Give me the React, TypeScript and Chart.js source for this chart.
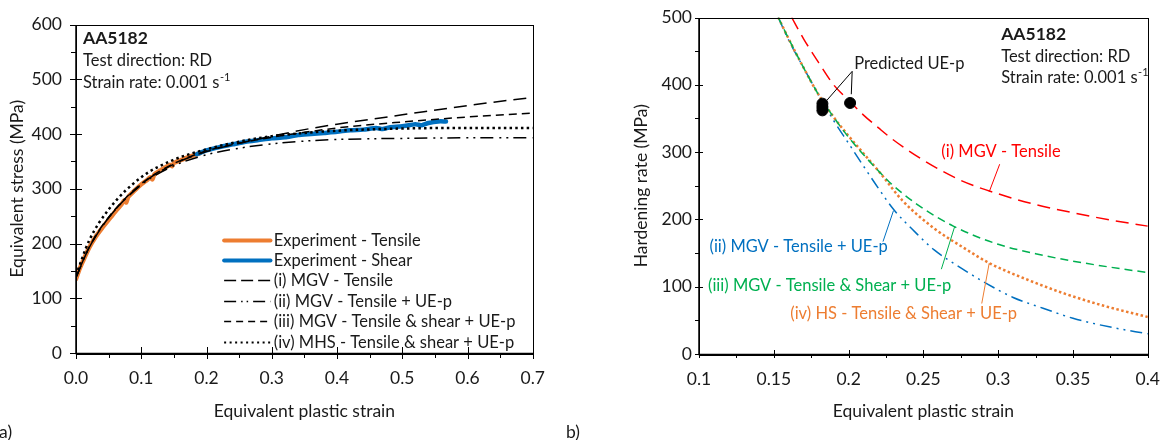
import React, { useEffect, useRef } from "react";
import { Chart, registerables } from "chart.js";
Chart.register(...registerables);

const FONT = "Lato, 'Open Sans', 'DejaVu Sans', sans-serif";
const TXT = "#1a1a1a";
const ORANGE = "#ED7D31";
const BLUE = "#0070C0";
const GREEN = "#00B050";
const RED = "#FF0000";
const BODY = 16.5;
const TITLE = 17.5;
const TICK = 17.5;

// ---------------- Panel a) : stress-strain ----------------
const xMajorA = [0, 0.1, 0.2, 0.3, 0.4, 0.5, 0.6, 0.7];
const xMinorA = [0.05, 0.15, 0.25, 0.35, 0.45, 0.55, 0.65];
const yMajorA = [0, 100, 200, 300, 400, 500, 600];
const yMinorA = [50, 150, 250, 350, 450, 550];

const expTensileStrain = [0, 0.005, 0.01, 0.02, 0.03, 0.04, 0.05, 0.06, 0.07, 0.074, 0.077, 0.08, 0.09, 0.1, 0.11, 0.114, 0.117, 0.12, 0.13, 0.14, 0.144, 0.147, 0.15, 0.16, 0.17, 0.18, 0.19];
const expTensileStress = [135, 152, 166, 192, 212, 228, 243, 258, 272, 279, 275, 285, 297, 308, 317, 321, 317, 326, 334, 341, 344, 341, 347, 352, 357, 361, 365];

const expShearStrain = [0.185, 0.2, 0.22, 0.24, 0.26, 0.28, 0.3, 0.32, 0.34, 0.36, 0.38, 0.4, 0.42, 0.44, 0.46, 0.47, 0.48, 0.5, 0.52, 0.53, 0.54, 0.555, 0.567];
const expShearStress = [363, 370, 376, 381, 386, 389, 392, 394, 398, 400, 402, 404, 407, 408, 411, 409, 412, 414, 418, 416, 420, 423, 423];

const modelStrainA = [0, 0.02, 0.05, 0.1, 0.15, 0.2, 0.25, 0.3, 0.35, 0.4, 0.5, 0.6, 0.7];
const mgvTensile = [138, 192, 247, 308, 345, 368, 383, 396, 408, 418, 435, 452, 467];
const mgvTensileUE = [138, 192, 247, 307, 342, 362, 374, 382, 387, 390, 392, 393, 393];
const mgvTensShearUE = [138, 193, 248, 309, 346, 369, 383, 394, 403, 411, 422, 431, 438];
const mhsTensShearUE = [142, 205, 262, 321, 353, 372, 386, 396, 402, 406, 410, 411, 411];

// ---------------- Panel b) : hardening rate ----------------
const xMajorB = [0.1, 0.15, 0.2, 0.25, 0.3, 0.35, 0.4];
const xMinorB = [0.125, 0.175, 0.225, 0.275, 0.325, 0.375];
const yMajorB = [0, 100, 200, 300, 400, 500];
const yMinorB = [50, 150, 250, 350, 450];

const redStrain = [0.162, 0.17, 0.18, 0.19, 0.2, 0.21, 0.22, 0.23, 0.25, 0.275, 0.3, 0.325, 0.35, 0.375, 0.4];
const redRate = [500, 468, 433, 400, 377, 355, 336, 318, 288, 258, 238, 222, 210, 199, 190];

const blueStrain = [0.153, 0.16, 0.17, 0.18, 0.19, 0.2, 0.21, 0.22, 0.23, 0.245, 0.257, 0.275, 0.292, 0.31, 0.33, 0.35, 0.375, 0.4];
const blueRate = [500, 466, 425, 385, 347, 313, 279, 246, 215, 180, 155, 128, 105, 84, 68, 53, 40, 30];

const greenStrain = [0.153, 0.16, 0.17, 0.18, 0.19, 0.2, 0.21, 0.22, 0.227, 0.246, 0.27, 0.3, 0.325, 0.35, 0.375, 0.4];
const greenRate = [500, 468, 425, 385, 352, 322, 296, 272, 256, 222, 190, 163, 149, 138, 129, 121];

const orangeStrain = [0.153, 0.16, 0.17, 0.18, 0.19, 0.2, 0.21, 0.22, 0.236, 0.257, 0.279, 0.294, 0.32, 0.344, 0.37, 0.4];
const orangeRate = [500, 468, 425, 385, 352, 324, 298, 272, 228, 187, 155, 135, 110, 90, 72, 55];

const predStrain = [0.1825, 0.1825, 0.1825, 0.201];
const predRate = [372, 367, 362, 373];

const pts = (xs: number[], ys: number[]) => xs.map((x, i) => ({ x, y: ys[i] }));

function lineDs(data: any, color: string, width: number, dash: number[], cap: any = "butt") {
  return {
    data,
    borderColor: color,
    backgroundColor: color,
    borderWidth: width,
    borderDash: dash,
    borderCapStyle: cap,
    pointRadius: 0,
    fill: false,
    cubicInterpolationMode: "monotone",
  };
}

function drawTicks(ctx: CanvasRenderingContext2D, chart: any, majX: number[], minX: number[], majY: number[], minY: number[], majLen: number, minLen: number) {
  const a = chart.chartArea;
  const { x, y } = chart.scales;
  ctx.strokeStyle = "#000";
  ctx.lineWidth = 1;
  for (const v of majX) {
    const p = Math.round(x.getPixelForValue(v)) + 0.5;
    ctx.beginPath(); ctx.moveTo(p, a.bottom - majLen); ctx.lineTo(p, a.bottom + majLen); ctx.stroke();
  }
  for (const v of minX) {
    const p = Math.round(x.getPixelForValue(v)) + 0.5;
    ctx.beginPath(); ctx.moveTo(p, a.bottom); ctx.lineTo(p, a.bottom + minLen); ctx.stroke();
  }
  for (const v of majY) {
    const p = Math.round(y.getPixelForValue(v)) + 0.5;
    ctx.beginPath(); ctx.moveTo(a.left - majLen, p); ctx.lineTo(a.left + majLen, p); ctx.stroke();
  }
  for (const v of minY) {
    const p = Math.round(y.getPixelForValue(v)) + 0.5;
    ctx.beginPath(); ctx.moveTo(a.left - minLen, p); ctx.lineTo(a.left, p); ctx.stroke();
  }
}

function drawFrame(ctx: CanvasRenderingContext2D, a: any) {
  ctx.strokeStyle = "#000";
  ctx.lineWidth = 1;
  ctx.strokeRect(Math.round(a.left) + 0.5, Math.round(a.top) + 0.5, Math.round(a.right - a.left), Math.round(a.bottom - a.top));
  ctx.lineWidth = 1.5;
  ctx.beginPath();
  ctx.moveTo(Math.round(a.left), Math.round(a.top));
  ctx.lineTo(Math.round(a.left), Math.round(a.bottom) + 0.5);
  ctx.lineTo(Math.round(a.right) + 1, Math.round(a.bottom) + 0.5);
  ctx.stroke();
}

function text(ctx: CanvasRenderingContext2D, s: string, x: number, y: number, size: number, color = TXT, align: CanvasTextAlign = "left", bold = false) {
  ctx.font = `${bold ? "bold " : ""}${size}px ${FONT}`;
  ctx.fillStyle = color;
  ctx.textAlign = align;
  ctx.textBaseline = "middle";
  ctx.fillText(s, x, y);
}

function supText(ctx: CanvasRenderingContext2D, base: string, sup: string, x: number, y: number, size: number) {
  text(ctx, base, x, y, size);
  const w = ctx.measureText(base).width;
  ctx.font = `${Math.round(size * 0.65)}px ${FONT}`;
  ctx.textAlign = "left";
  ctx.fillText(sup, x + w + 0.5, y - size * 0.3);
}

function vText(ctx: CanvasRenderingContext2D, s: string, x: number, y: number, size: number) {
  ctx.save();
  ctx.translate(x, y);
  ctx.rotate(-Math.PI / 2);
  text(ctx, s, 0, 0, size, TXT, "center");
  ctx.restore();
}

function seg(ctx: CanvasRenderingContext2D, x1: number, y1: number, x2: number, y2: number, color: string, width = 1, dash: number[] = []) {
  ctx.strokeStyle = color;
  ctx.lineWidth = width;
  ctx.setLineDash(dash);
  ctx.beginPath(); ctx.moveTo(x1, y1); ctx.lineTo(x2, y2); ctx.stroke();
  ctx.setLineDash([]);
}

const decoA = {
  id: "decoA",
  afterDraw(chart: any) {
    const ctx = chart.ctx as CanvasRenderingContext2D;
    const a = chart.chartArea;
    const { x, y } = chart.scales;
    ctx.save();
    drawFrame(ctx, a);
    drawTicks(ctx, chart, xMajorA, xMinorA, yMajorA, yMinorA, 6, 5);

    // header text
    text(ctx, "AA5182", a.left + 7, a.top + 14, TITLE, TXT, "left", true);
    text(ctx, "Test direction: RD", a.left + 7, a.top + 36, BODY);
    supText(ctx, "Strain rate: 0.001 s", "-1", a.left + 7, a.top + 58, BODY);

    // legend
    const lx0 = x.getPixelForValue(0.227);
    const lx1 = x.getPixelForValue(0.298);
    const tx = x.getPixelForValue(0.303);
    const rows: any[] = [
      ["Experiment - Tensile", ORANGE, 4, [], "round"],
      ["Experiment - Shear", BLUE, 4, [], "round"],
      ["(i) MGV - Tensile", "#000", 1.5, [12, 5], "butt"],
      ["(ii) MGV - Tensile + UE-p", "#000", 1.5, [12, 5, 1.5, 4, 1.5, 5], "butt"],
      ["(iii) MGV - Tensile & shear + UE-p", "#000", 1.5, [7, 5], "butt"],
      ["(iv) MHS - Tensile & shear + UE-p", "#000", 2, [2, 3.5], "butt"],
    ];
    const ry0 = y.getPixelForValue(207);
    rows.forEach((r, i) => {
      const ry = Math.round(ry0 + i * 20.4) + 0.5;
      ctx.lineCap = r[4];
      seg(ctx, lx0, ry, lx1, ry, r[1], r[2], r[3]);
      ctx.lineCap = "butt";
      text(ctx, r[0], tx, ry, BODY);
    });

    // axis titles and panel label
    vText(ctx, "Equivalent stress (MPa)", 17, (a.top + a.bottom) / 2, TITLE);
    text(ctx, "Equivalent plastic strain", (a.left + a.right) / 2, 411, TITLE, TXT, "center");
    text(ctx, "a)", -1, 432, TITLE);
    ctx.restore();
  },
};

const decoB = {
  id: "decoB",
  afterDraw(chart: any) {
    const ctx = chart.ctx as CanvasRenderingContext2D;
    const a = chart.chartArea;
    const { x, y } = chart.scales;
    const X = (v: number) => x.getPixelForValue(v);
    const Y = (v: number) => y.getPixelForValue(v);
    ctx.save();
    drawFrame(ctx, a);
    drawTicks(ctx, chart, xMajorB, xMinorB, yMajorB, yMinorB, 4, 4);

    // header text
    const hx = X(0.302);
    text(ctx, "AA5182", hx, a.top + 17, TITLE, TXT, "left", true);
    text(ctx, "Test direction: RD", hx, a.top + 39, BODY);
    supText(ctx, "Strain rate: 0.001 s", "-1", hx, a.top + 60, BODY);

    // predicted UE-p annotation
    text(ctx, "Predicted UE-p", X(0.2037), Y(431.5), BODY);
    seg(ctx, X(0.2024), Y(420), X(0.1855), Y(377), "#000", 1);
    seg(ctx, X(0.2024), Y(420), X(0.2018), Y(386), "#000", 1);

    // curve labels
    text(ctx, "(i) MGV - Tensile", X(0.262), Y(300), BODY, RED);
    seg(ctx, X(0.301), Y(282), X(0.294), Y(241), RED, 1);
    text(ctx, "(ii) MGV - Tensile + UE-p", X(0.107), Y(160), BODY, BLUE);
    seg(ctx, X(0.223), Y(167), X(0.230), Y(213), BLUE, 1);
    text(ctx, "(iii) MGV - Tensile & Shear + UE-p", X(0.106), Y(102), BODY, GREEN);
    seg(ctx, X(0.262), Y(126), X(0.271), Y(190), GREEN, 1);
    text(ctx, "(iv) HS - Tensile & Shear + UE-p", X(0.161), Y(60), BODY, ORANGE);
    seg(ctx, X(0.289), Y(75), X(0.294), Y(135), ORANGE, 1);

    vText(ctx, "Hardening rate (MPa)", 81, (a.top + a.bottom) / 2, TITLE);
    text(ctx, "Equivalent plastic strain", (a.left + a.right) / 2, 411, TITLE, TXT, "center");
    text(ctx, "b)", 6, 432, TITLE);
    ctx.restore();
  },
};

function axisCommon(min: number, max: number, step: number, pad: number, cb: (v: number) => string) {
  return {
    type: "linear",
    min,
    max,
    grid: { display: false, drawTicks: false },
    border: { display: false },
    ticks: {
      stepSize: step,
      padding: pad,
      autoSkip: false,
      maxRotation: 0,
      color: TXT,
      font: { family: FONT, size: TICK },
      callback: (v: any) => cb(Number(v)),
    },
  };
}

function configA(): any {
  return {
    type: "line",
    data: {
      datasets: [
        lineDs(pts(modelStrainA, mgvTensile), "#000", 1.5, [13, 7]),
        lineDs(pts(modelStrainA, mgvTensileUE), "#000", 1.5, [13, 6, 2, 5, 2, 5]),
        lineDs(pts(modelStrainA, mgvTensShearUE), "#000", 1.5, [8, 5]),
        lineDs(pts(modelStrainA, mhsTensShearUE), "#000", 2.5, [2.5, 3.2]),
        { ...lineDs(pts(expShearStrain, expShearStress), BLUE, 4.5, [], "round"), cubicInterpolationMode: "default", tension: 0.2 },
        { ...lineDs(pts(expTensileStrain, expTensileStress), ORANGE, 4.5, [], "round"), cubicInterpolationMode: "default", tension: 0.2 },
      ],
    },
    options: {
      animation: false,
      responsive: false,
      maintainAspectRatio: false,
      layout: { padding: { left: 0, right: 22, top: 13, bottom: 0 } },
      plugins: { legend: { display: false }, tooltip: { enabled: false } },
      scales: {
        x: { ...axisCommon(0, 0.7, 0.1, 15, (v) => v.toFixed(1)), afterFit: (s: any) => { s.height = 87; } },
        y: { ...axisCommon(0, 600, 100, 14, (v) => String(Math.round(v))), afterFit: (s: any) => { s.width = 76; } },
      },
    },
    plugins: [decoA],
  };
}

function configB(): any {
  return {
    type: "line",
    data: {
      datasets: [
        {
          data: pts(predStrain, predRate),
          showLine: false,
          pointRadius: 5.5,
          pointBackgroundColor: "#000",
          pointBorderColor: "#000",
          borderColor: "#000",
          backgroundColor: "#000",
        },
        lineDs(pts(redStrain, redRate), RED, 1.5, [13, 7]),
        lineDs(pts(greenStrain, greenRate), GREEN, 1.5, [8, 5]),
        lineDs(pts(orangeStrain, orangeRate), ORANGE, 2.5, [2.5, 2.5]),
        lineDs(pts(blueStrain, blueRate), BLUE, 1.5, [12, 5, 2, 5, 2, 5]),
      ],
    },
    options: {
      animation: false,
      responsive: false,
      maintainAspectRatio: false,
      layout: { padding: { left: 0, right: 16, top: 13, bottom: 0 } },
      plugins: { legend: { display: false }, tooltip: { enabled: false } },
      scales: {
        x: { ...axisCommon(0.1, 0.4, 0.05, 15, (v) => String(Number(v.toFixed(2)))), afterFit: (s: any) => { s.height = 86; } },
        y: { ...axisCommon(0, 500, 100, 7, (v) => String(Math.round(v))), afterFit: (s: any) => { s.width = 139; } },
      },
    },
    plugins: [decoB],
  };
}

export default function App() {
  const aRef = useRef<HTMLCanvasElement>(null);
  const bRef = useRef<HTMLCanvasElement>(null);
  useEffect(() => {
    const ca = new Chart(aRef.current as HTMLCanvasElement, configA());
    const cb = new Chart(bRef.current as HTMLCanvasElement, configB());
    return () => {
      ca.destroy();
      cb.destroy();
    };
  }, []);
  return (
    <div style={{ position: "absolute", left: 0, top: 0, width: 1175, height: 440, background: "#fff" }}>
      <canvas ref={aRef} width={560} height={440} style={{ position: "absolute", left: 0, top: 0, width: 560, height: 440 }} />
      <canvas ref={bRef} width={615} height={440} style={{ position: "absolute", left: 560, top: 0, width: 615, height: 440 }} />
    </div>
  );
}
